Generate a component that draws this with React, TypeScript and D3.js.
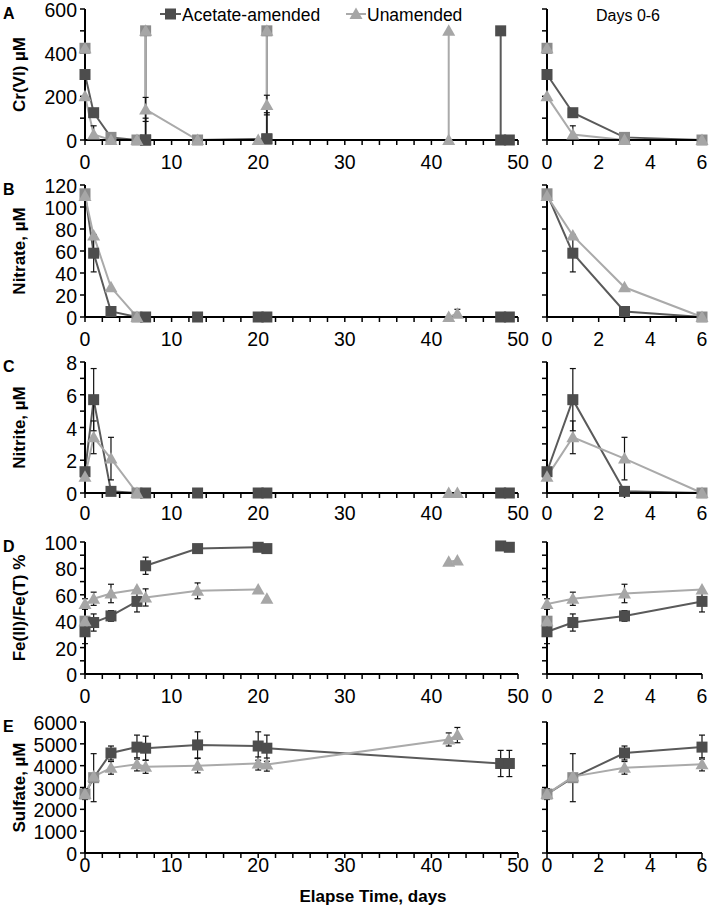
import React from 'react';
import * as d3 from 'd3';

// Each point: [day, value, symmetric error (optional)]
type Pt = [number, number, number?];
type Seg = Pt[];

// Cr(VI), µM — segments break at each Cr(VI) re-spike
const crAcetate: Seg[] = [
  [[0, 420], [0, 300], [1, 125], [3, 12], [6, 0], [7, 0]],
  [[7, 500], [7, 0, 100], [13, 0], [21, 5, 120]],
  [[21, 500], [21, 5]],
  [[48, 500], [48, 0], [49, 0]],
];
const crUnamended: Seg[] = [
  [[0, 420], [0, 200], [1, 25, 40], [3, 0], [6, 0]],
  [[7, 500], [7, 140, 55], [13, 0], [20, 0]],
  [[21, 500], [21, 160, 45]],
  [[42, 500], [42, 0]],
];

// Nitrate, µM
const nitrateAcetate: Seg[] = [
  [[0, 112], [1, 58, 17], [3, 5], [6, 0], [7, 0], [13, 0], [20, 0], [21, 0], [48, 0], [49, 0]],
];
const nitrateUnamended: Seg[] = [
  [[0, 110], [1, 74], [3, 27], [6, 0], [42, 0], [43, 3, 4]],
];

// Nitrite, µM
const nitriteAcetate: Seg[] = [
  [[0, 1.3], [1, 5.7, 1.9], [3, 0.1], [6, 0], [7, 0], [13, 0], [20, 0], [21, 0], [48, 0], [49, 0]],
];
const nitriteUnamended: Seg[] = [
  [[0, 1.0], [1, 3.4, 1.0], [3, 2.1, 1.3], [6, 0], [42, 0], [43, 0]],
];

// Fe(II)/Fe(T), %
const feAcetate: Seg[] = [
  [[0, 40], [0, 32, 9], [1, 39, 6.5], [3, 44, 4], [6, 55, 8]],
  [[7, 82, 6.5], [13, 95], [20, 96], [21, 95]],
  [[48, 97], [49, 96]],
];
const feUnamended: Seg[] = [
  [[0, 40], [0, 53, 4], [1, 57, 5], [3, 61, 7], [6, 64]],
  [[7, 58, 6.5], [13, 63, 6], [20, 64]],
  [[21, 57]],
  [[42, 85], [43, 86]],
];

// Sulfate, µM
const sulfateAcetate: Seg[] = [
  [[0, 2700, 250], [1, 3450, 1100], [3, 4580, 320], [6, 4850, 550], [7, 4800, 550],
   [13, 4950, 600], [20, 4900, 650], [21, 4800, 600], [48, 4100, 600], [49, 4100, 600]],
];
const sulfateUnamended: Seg[] = [
  [[0, 2700], [1, 3500], [3, 3900, 290], [6, 4060, 300], [7, 3950, 300],
   [13, 4000, 330], [20, 4100, 300], [21, 4050, 300], [42, 5200, 300], [43, 5400, 350]],
];

const seriesNames = ['Acetate-amended', 'Unamended'];
const xTitle = 'Elapse Time, days';
const insetTitle = 'Days 0-6';

const FONT = '"Liberation Sans", Arial, Helvetica, sans-serif';
const DARK = '#4d4d4d';
const DARK_LINE = '#5a5a5a';
const LIGHT = '#a6a6a6';
const LIGHT_LINE = '#aaaaaa';
const MID = '#8b8b8b';

const W = 709;
const H = 907;

const mainX = d3.scaleLinear().domain([0, 50]).range([85, 518]);
const insetX = d3.scaleLinear().domain([0, 6]).range([547, 702]);

interface PanelDef {
  letter: string;
  title: string;
  yMax: number;
  labelStep: number;
  tickStep: number;
  top: number;
  bottom: number;
  labelGap: number;
  acetate: Seg[];
  unamended: Seg[];
}

const panels: PanelDef[] = [
  { letter: 'A', title: 'Cr(VI) µM', yMax: 600, labelStep: 200, tickStep: 100, top: 9, bottom: 140, labelGap: 22, acetate: crAcetate, unamended: crUnamended },
  { letter: 'B', title: 'Nitrate, µM', yMax: 120, labelStep: 20, tickStep: 20, top: 185, bottom: 317, labelGap: 22, acetate: nitrateAcetate, unamended: nitrateUnamended },
  { letter: 'C', title: 'Nitrite, µM', yMax: 8, labelStep: 2, tickStep: 1, top: 362, bottom: 493, labelGap: 20, acetate: nitriteAcetate, unamended: nitriteUnamended },
  { letter: 'D', title: 'Fe(II)/Fe(T) %', yMax: 100, labelStep: 20, tickStep: 10, top: 542, bottom: 674, labelGap: 22, acetate: feAcetate, unamended: feUnamended },
  { letter: 'E', title: 'Sulfate, µM', yMax: 6000, labelStep: 1000, tickStep: 1000, top: 722, bottom: 853, labelGap: 12, acetate: sulfateAcetate, unamended: sulfateUnamended },
];

const SQ = 11;

function Square({ cx, cy, fill }: { cx: number; cy: number; fill: string }) {
  return <rect x={cx - SQ / 2} y={cy - SQ / 2} width={SQ} height={SQ} fill={fill} />;
}

function Triangle({ cx, cy, fill }: { cx: number; cy: number; fill: string }) {
  const d = `M${cx},${cy - 6.5}L${cx + 6.5},${cy + 5}L${cx - 6.5},${cy + 5}Z`;
  return <path d={d} fill={fill} />;
}

function Plot({ p, x, maxDay, xTickStep, xLabelStep, showYLabels }: {
  p: PanelDef; x: d3.ScaleLinear<number, number>; maxDay: number;
  xTickStep: number; xLabelStep: number; showYLabels: boolean;
}) {
  const y = d3.scaleLinear().domain([0, p.yMax]).range([p.bottom, p.top]);
  const keep = (segs: Seg[]) => segs.map(s => s.filter(d => d[0] <= maxDay)).filter(s => s.length > 0);
  const aSegs = keep(p.acetate);
  const uSegs = keep(p.unamended);
  const line = d3.line<Pt>().x(d => x(d[0])).y(d => y(d[1]));
  const aPts = aSegs.flat();
  const uPts = uSegs.flat();
  const errPts = [...aPts, ...uPts].filter(d => d[2] != null);
  const x0 = x(0);
  const eps = 1e-9;
  const yTicks = d3.range(0, p.yMax + eps, p.tickStep);
  const yLabels = d3.range(0, p.yMax + eps, p.labelStep);
  const xTicks = d3.range(0, maxDay + eps, xTickStep);
  const xLabels = d3.range(0, maxDay + eps, xLabelStep);
  const overlaps = (a: Pt) => uPts.some(u => u[0] === a[0] && Math.abs(y(u[1]) - y(a[1])) <= 3);

  return (
    <g>
      {/* series lines */}
      {aSegs.map((s, i) => (
        <path key={'al' + i} d={line(s) || ''} fill="none" stroke={DARK_LINE} strokeWidth={2} />
      ))}
      {uSegs.map((s, i) => (
        <path key={'ul' + i} d={line(s) || ''} fill="none" stroke={LIGHT_LINE} strokeWidth={2} />
      ))}
      {/* error bars */}
      {errPts.map((d, i) => {
        const lo = y(Math.max(0, d[1] - (d[2] as number)));
        const hi = y(Math.min(p.yMax, d[1] + (d[2] as number)));
        const cx = x(d[0]);
        return (
          <g key={'e' + i} stroke="#111" strokeWidth={1.2}>
            <line x1={cx} x2={cx} y1={lo} y2={hi} />
            <line x1={cx - 3} x2={cx + 3} y1={hi} y2={hi} />
            <line x1={cx - 3} x2={cx + 3} y1={lo} y2={lo} />
          </g>
        );
      })}
      {/* axes */}
      <line x1={x0} x2={x0} y1={p.top} y2={p.bottom} stroke="#000" strokeWidth={2} />
      <line x1={x0} x2={x(maxDay)} y1={p.bottom} y2={p.bottom} stroke="#000" strokeWidth={2} />
      {yTicks.map(t => (
        <line key={'yt' + t} x1={x0 - 5} x2={x0} y1={y(t)} y2={y(t)} stroke="#000" strokeWidth={1.5} />
      ))}
      {xTicks.map(t => (
        <line key={'xt' + t} x1={x(t)} x2={x(t)} y1={p.bottom} y2={p.bottom + 5} stroke="#000" strokeWidth={1.5} />
      ))}
      {showYLabels && yLabels.map(t => (
        <text key={'yl' + t} x={77} y={Math.max(y(t) + 1, 10)} textAnchor="end" dominantBaseline="central"
          fontFamily={FONT} fontSize={19.5} fill="#000">{d3.format('d')(t)}</text>
      ))}
      {xLabels.map(t => (
        <text key={'xl' + t} x={x(t)} y={p.bottom + p.labelGap} textAnchor="middle" dominantBaseline="central"
          fontFamily={FONT} fontSize={19.5} fill="#000">{t}</text>
      ))}
      {/* markers */}
      {aPts.map((d, i) => (
        <Square key={'am' + i} cx={x(d[0])} cy={y(d[1])} fill={overlaps(d) ? MID : DARK} />
      ))}
      {uPts.map((d, i) => (
        <Triangle key={'um' + i} cx={x(d[0])} cy={y(d[1])} fill={LIGHT} />
      ))}
    </g>
  );
}

export default function App() {
  return (
    <svg width={W} height={H} viewBox={`0 0 ${W} ${H}`}
      style={{ position: 'absolute', left: 0, top: 0, background: '#fff' }}>
      <rect x={0} y={0} width={W} height={H} fill="#fff" />
      {panels.map(p => (
        <g key={p.letter}>
          <Plot p={p} x={mainX} maxDay={50} xTickStep={2} xLabelStep={10} showYLabels={true} />
          <Plot p={p} x={insetX} maxDay={6} xTickStep={1} xLabelStep={2} showYLabels={false} />
          <text x={3} y={p.top + 4} dominantBaseline="central" fontFamily={FONT} fontWeight="bold"
            fontSize={16} fill="#000">{p.letter}</text>
          <text transform={`translate(19,${(p.top + p.bottom) / 2}) rotate(-90)`} textAnchor="middle"
            dominantBaseline="central" fontFamily={FONT} fontWeight="bold" fontSize={17} fill="#000">{p.title}</text>
        </g>
      ))}
      {/* legend */}
      <g>
        <line x1={160} x2={181} y1={14} y2={14} stroke={DARK_LINE} strokeWidth={2} />
        <Square cx={170.5} cy={14} fill={DARK} />
        <text x={182} y={15} dominantBaseline="central" fontFamily={FONT} fontSize={17.5} fill="#000">{seriesNames[0]}</text>
        <line x1={346} x2={366} y1={14} y2={14} stroke={LIGHT_LINE} strokeWidth={2} />
        <Triangle cx={356} cy={14} fill={LIGHT} />
        <text x={367} y={15} dominantBaseline="central" fontFamily={FONT} fontSize={17.5} fill="#000">{seriesNames[1]}</text>
      </g>
      <text x={628} y={15} textAnchor="middle" dominantBaseline="central" fontFamily={FONT} fontSize={16} fill="#000">{insetTitle}</text>
      <text x={373} y={896} textAnchor="middle" dominantBaseline="central" fontFamily={FONT} fontWeight="bold" fontSize={17} fill="#000">{xTitle}</text>
    </svg>
  );
}
